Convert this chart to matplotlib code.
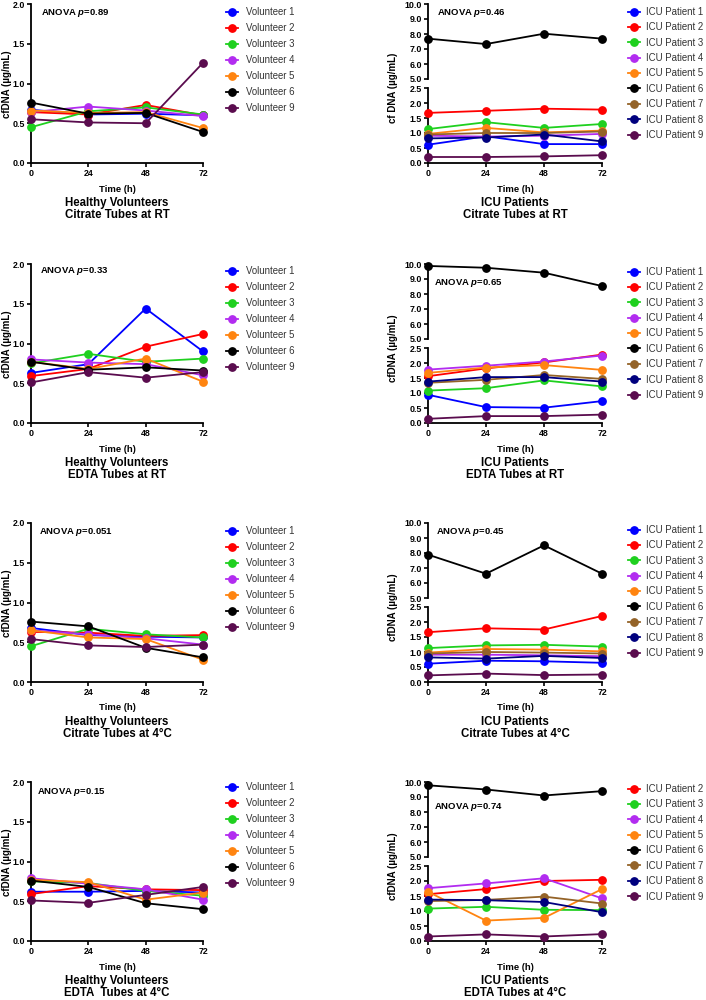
import numpy as np
import matplotlib.pyplot as plt
from matplotlib.lines import Line2D

plt.rcParams['font.family'] = ['Liberation Sans', 'DejaVu Sans']
plt.rcParams['font.weight'] = 'bold'
plt.rcParams['mathtext.fontset'] = 'custom'
plt.rcParams['mathtext.it'] = 'Liberation Sans:italic:bold'
plt.rcParams['mathtext.rm'] = 'Liberation Sans:bold'

time_h = [0, 24, 48, 72]

volunteers = ["Volunteer 1", "Volunteer 2", "Volunteer 3", "Volunteer 4",
              "Volunteer 5", "Volunteer 6", "Volunteer 9"]
vol_colors = ["#0000ff", "#ff0000", "#1fd01f", "#b22cf0", "#ff8410", "#000000", "#5a0c4e"]

icu_patients = ["ICU Patient 1", "ICU Patient 2", "ICU Patient 3", "ICU Patient 4",
                "ICU Patient 5", "ICU Patient 6", "ICU Patient 7", "ICU Patient 8",
                "ICU Patient 9"]
icu_colors = ["#0000ff", "#ff0000", "#1fd01f", "#b22cf0", "#ff8410", "#000000",
              "#946328", "#00007e", "#5a0c4e"]

# healthy volunteers (V1, V2, V3, V4, V5, V6, V9)
hv_citrate_rt = [[0.67, 0.61, 0.62, 0.60],
                 [0.64, 0.61, 0.73, 0.60],
                 [0.45, 0.65, 0.70, 0.61],
                 [0.64, 0.71, 0.66, 0.59],
                 [0.66, 0.63, 0.64, 0.44],
                 [0.76, 0.62, 0.63, 0.39],
                 [0.55, 0.51, 0.50, 1.26]]
hv_edta_rt = [[0.63, 0.74, 1.44, 0.90],
              [0.59, 0.68, 0.96, 1.12],
              [0.75, 0.87, 0.77, 0.81],
              [0.80, 0.76, 0.74, 0.60],
              [0.77, 0.68, 0.81, 0.52],
              [0.77, 0.67, 0.70, 0.66],
              [0.51, 0.64, 0.57, 0.64]]
hv_citrate_4c = [[0.68, 0.59, 0.57, 0.56],
                 [0.63, 0.62, 0.58, 0.59],
                 [0.45, 0.67, 0.60, 0.56],
                 [0.65, 0.60, 0.55, 0.47],
                 [0.65, 0.56, 0.54, 0.28],
                 [0.76, 0.70, 0.43, 0.31],
                 [0.54, 0.46, 0.44, 0.47]]
hv_edta_4c = [[0.62, 0.62, 0.63, 0.61],
              [0.59, 0.69, 0.65, 0.64],
              [0.75, 0.73, 0.63, 0.57],
              [0.79, 0.72, 0.65, 0.52],
              [0.77, 0.74, 0.52, 0.61],
              [0.76, 0.68, 0.475, 0.40],
              [0.51, 0.48, 0.58, 0.68]]

# ICU patients (P1 ... P9)
icu_citrate_rt = [[0.61, 0.89, 0.63, 0.63],
                  [1.67, 1.74, 1.81, 1.78],
                  [1.13, 1.36, 1.17, 1.30],
                  [0.91, 0.88, 0.91, 0.97],
                  [0.97, 1.17, 1.02, 1.08],
                  [7.69, 7.33, 8.02, 7.69],
                  [0.95, 1.00, 1.00, 1.05],
                  [0.82, 0.85, 0.95, 0.72],
                  [0.20, 0.20, 0.22, 0.26]]
icu_edta_rt = [[0.94, 0.53, 0.51, 0.73],
               [1.56, 1.82, 2.02, 2.28],
               [1.08, 1.16, 1.42, 1.22],
               [1.78, 1.91, 2.05, 2.25],
               [1.67, 1.85, 1.93, 1.77],
               [9.87, 9.75, 9.42, 8.53],
               [1.34, 1.44, 1.60, 1.47],
               [1.38, 1.53, 1.53, 1.38],
               [0.14, 0.23, 0.23, 0.28]]
icu_citrate_4c = [[0.61, 0.71, 0.69, 0.64],
                  [1.66, 1.79, 1.75, 2.20],
                  [1.13, 1.22, 1.24, 1.18],
                  [0.91, 0.91, 0.89, 0.86],
                  [0.98, 1.10, 1.08, 1.02],
                  [7.89, 6.62, 8.51, 6.62],
                  [0.95, 1.00, 0.98, 0.95],
                  [0.82, 0.78, 0.87, 0.80],
                  [0.22, 0.28, 0.23, 0.25]]
# no patient 1 in this set
icu_edta_4c = [[1.56, 1.73, 2.00, 2.04],
               [1.08, 1.14, 1.04, 1.03],
               [1.76, 1.92, 2.09, 1.42],
               [1.64, 0.68, 0.77, 1.73],
               [9.78, 9.50, 9.10, 9.39],
               [1.33, 1.37, 1.48, 1.25],
               [1.38, 1.36, 1.30, 0.96],
               [0.15, 0.22, 0.15, 0.23]]

anova_p = ["0.89", "0.46", "0.33", "0.65", "0.051", "0.45", "0.15", "0.74"]
titles_left = ["Healthy Volunteers\nCitrate Tubes at RT", "Healthy Volunteers\nEDTA Tubes at RT",
               "Healthy Volunteers\nCitrate Tubes at 4°C", "Healthy Volunteers\nEDTA  Tubes at 4°C"]
titles_right = ["ICU Patients\nCitrate Tubes at RT", "ICU Patients\nEDTA Tubes at RT",
                "ICU Patients\nCitrate Tubes at 4°C", "ICU Patients\nEDTA Tubes at 4°C"]

W, H = 706, 1000
fig = plt.figure(figsize=(W / 100, H / 100), dpi=100)


def box(x0, y0, x1, y1):
    return [x0 / W, 1 - y1 / H, (x1 - x0) / W, (y1 - y0) / H]


def fx(x):
    return x / W


def fy(y):
    return 1 - y / H


def style(ax, bottom=True):
    ax.spines['top'].set_visible(False)
    ax.spines['right'].set_visible(False)
    ax.spines['left'].set_linewidth(1.3)
    ax.spines['bottom'].set_linewidth(1.3)
    ax.tick_params(length=3, width=1.2, labelsize=6.4, pad=1.5)
    for lab in ax.get_xticklabels() + ax.get_yticklabels():
        lab.set_fontweight('bold')
    ax.set_xlim(0, 72)
    ax.set_xticks(time_h)
    if not bottom:
        ax.spines['bottom'].set_visible(False)
        ax.tick_params(axis='x', bottom=False, labelbottom=False)


def draw(ax, values, colors):
    for vals, c in zip(values, colors):
        ax.plot(time_h, vals, color=c, lw=1.3, marker='o', ms=5.3, clip_on=False, zorder=3)


tops = [4, 264, 523, 782]
anova_left = [(41, 13), (40, 271), (39, 532), (37, 792)]
anova_right = [(437, 13), (434, 283), (436, 532), (434, 807)]
legend_left_top = [7, 266, 526, 782]
legend_right_top = [7, 267, 525, 784]

left_data = [hv_citrate_rt, hv_edta_rt, hv_citrate_4c, hv_edta_4c]
right_data = [icu_citrate_rt, icu_edta_rt, icu_citrate_4c, icu_edta_4c]
ylabels_right = ["cf DNA (µg/mL)", "cfDNA (µg/mL)", "cfDNA (µg/mL)", "cfDNA (µg/mL)"]

for r in range(4):
    top = tops[r]
    bot = top + 159

    # left: healthy volunteers
    ax = fig.add_axes(box(31, top, 203, bot))
    draw(ax, left_data[r], vol_colors)
    ax.set_ylim(0, 2.0)
    ax.set_yticks([0, 0.5, 1.0, 1.5, 2.0])
    ax.set_yticklabels(["0.0", "0.5", "1.0", "1.5", "2.0"])
    style(ax)
    ax.set_xlabel("Time (h)", fontsize=6.8, fontweight='bold', labelpad=4.5)
    fig.text(fx(7), fy(top + 80), "cfDNA (µg/mL)", fontsize=7.0, fontweight='bold',
             rotation=90, ha='center', va='center')
    fig.text(fx(anova_left[r][0]), fy(anova_left[r][1]), "ANOVA $p$=" + anova_p[2 * r],
             fontsize=6.8, fontweight='bold', va='center', ha='left')
    fig.text(fx(117), fy(bot + 46), titles_left[r], fontsize=8.3, fontweight='bold',
             ha='center', va='center', linespacing=1.05)
    handles = [Line2D([0], [0], color=c, lw=1.3, marker='o', ms=5.3) for c in vol_colors]
    fig.legend(handles, volunteers, loc='upper left',
               bbox_to_anchor=(fx(226), fy(legend_left_top[r])), frameon=False,
               handlelength=1.3, handletextpad=0.8, labelspacing=0.63,
               borderpad=0, borderaxespad=0, labelcolor='#333333',
               prop={'weight': 'normal', 'size': 6.9})

    # right: ICU patients, broken axis
    vals = right_data[r]
    if r == 3:
        labels = icu_patients[1:]
        colors = icu_colors[1:]
    else:
        labels = icu_patients
        colors = icu_colors
    high = [v for v in vals if max(v) > 5]
    high_c = [c for v, c in zip(vals, colors) if max(v) > 5]
    low = [v for v in vals if max(v) <= 5]
    low_c = [c for v, c in zip(vals, colors) if max(v) <= 5]

    ax_hi = fig.add_axes(box(428, top, 602, top + 75))
    draw(ax_hi, high, high_c)
    ax_hi.set_ylim(5, 10)
    ax_hi.set_yticks([5, 6, 7, 8, 9, 10])
    ax_hi.set_yticklabels(["5.0", "6.0", "7.0", "8.0", "9.0", "10.0"])
    style(ax_hi, bottom=False)

    ax_lo = fig.add_axes(box(428, top + 84, 602, bot))
    draw(ax_lo, low, low_c)
    ax_lo.set_ylim(0, 2.5)
    ax_lo.set_yticks([0, 0.5, 1.0, 1.5, 2.0, 2.5])
    ax_lo.set_yticklabels(["0.0", "0.5", "1.0", "1.5", "2.0", "2.5"])
    style(ax_lo)
    ax_lo.set_xlabel("Time (h)", fontsize=6.8, fontweight='bold', labelpad=4.5)

    fig.text(fx(393), fy(top + 84), ylabels_right[r], fontsize=7.0, fontweight='bold',
             rotation=90, ha='center', va='center')
    fig.text(fx(anova_right[r][0]), fy(anova_right[r][1]), "ANOVA $p$=" + anova_p[2 * r + 1],
             fontsize=6.8, fontweight='bold', va='center', ha='left')
    fig.text(fx(515), fy(bot + 46), titles_right[r], fontsize=8.3, fontweight='bold',
             ha='center', va='center', linespacing=1.05)
    handles = [Line2D([0], [0], color=c, lw=1.3, marker='o', ms=5.3) for c in colors]
    fig.legend(handles, labels, loc='upper left',
               bbox_to_anchor=(fx(628), fy(legend_right_top[r])), frameon=False,
               handlelength=1.3, handletextpad=0.6, labelspacing=0.56,
               borderpad=0, borderaxespad=0, labelcolor='#333333',
               prop={'weight': 'normal', 'size': 6.9})

plt.savefig("out.png", dpi=100)
